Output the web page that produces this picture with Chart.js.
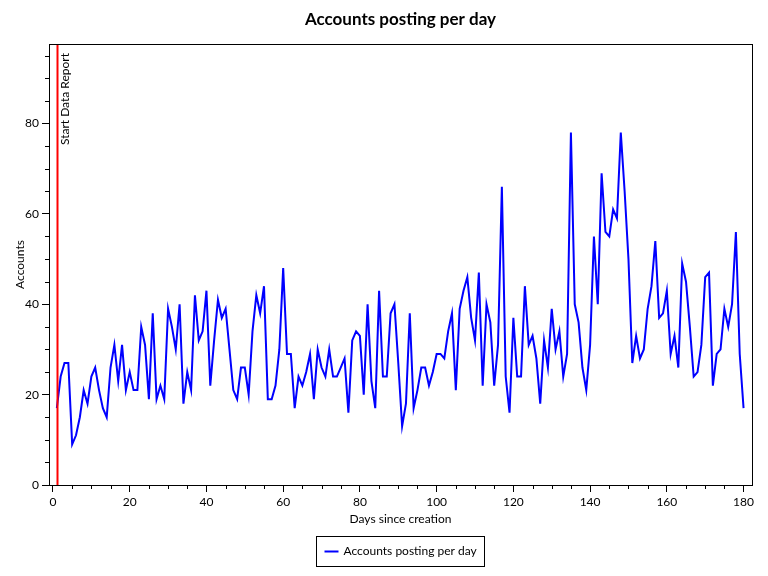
<!DOCTYPE html>
<html>
<head>
<meta charset="utf-8">
<script src="https://cdn.jsdelivr.net/npm/chart.js@4.4.0/dist/chart.umd.min.js"></script>
<style>
body { margin: 0; background: #fff; }
</style>
</head>
<body>
<canvas id="postsChart" width="768" height="576"></canvas>
<script>
// accounts posting per day, day 1..180
const accounts = [
    17, 24, 27, 27, 9, 11, 15, 21, 18, 24,
    26, 21, 17, 15, 26, 31, 23, 31, 21, 25,
    21, 21, 35, 31, 19, 38, 19, 22, 19, 39,
    35, 30, 40, 18, 25, 21, 42, 32, 34, 43,
    22, 32, 41, 37, 39, 30, 21, 19, 26, 26,
    20, 34, 42, 38, 44, 19, 19, 22, 30, 48,
    29, 29, 17, 24, 22, 25, 29, 19, 30, 26,
    24, 30, 24, 24, 26, 28, 16, 32, 34, 33,
    20, 40, 23, 17, 43, 24, 24, 38, 40, 27,
    13, 18, 38, 17, 21, 26, 26, 22, 25, 29,
    29, 28, 34, 38, 21, 39, 43, 46, 37, 32,
    47, 22, 40, 36, 22, 31, 66, 24, 16, 37,
    24, 24, 44, 31, 33, 28, 18, 32, 26, 39,
    30, 34, 24, 29, 78, 40, 36, 26, 21, 31,
    55, 40, 69, 56, 55, 61, 59, 78, 65, 50,
    27, 33, 28, 30, 39, 44, 54, 37, 38, 43,
    29, 33, 26, 49, 45, 35, 24, 25, 31, 46,
    47, 22, 29, 30, 39, 35, 40, 56, 29, 17
]
const days = accounts.map((v, i) => i + 1)

const xTicks = [0, 20, 40, 60, 80, 100, 120, 140, 160, 180]
const yTicks = [0, 20, 40, 60, 80]
const startDay = 1
const startLabel = 'Start Data Report'
const seriesLabel = 'Accounts posting per day'

const FONT = 'Lato'

// minor ticks + plot frame + start marker + boxed legend
const extras = {
    id: 'extras',
    afterDatasetsDraw(chart) {
        const ctx = chart.ctx
        const area = chart.chartArea
        const xs = chart.scales.x

        // start marker
        const sx = Math.round(xs.getPixelForValue(startDay)) + 0.5
        ctx.save()
        ctx.strokeStyle = '#ff0000'
        ctx.lineWidth = 2
        ctx.beginPath()
        ctx.moveTo(sx, area.top)
        ctx.lineTo(sx, area.bottom)
        ctx.stroke()
        ctx.translate(sx + 2, area.top + 9)
        ctx.rotate(-Math.PI / 2)
        ctx.fillStyle = '#000'
        ctx.font = '12px "' + FONT + '"'
        ctx.textAlign = 'right'
        ctx.textBaseline = 'top'
        ctx.fillText(startLabel, 0, 0)
        ctx.restore()
    },
    afterDraw(chart) {
        const ctx = chart.ctx
        const area = chart.chartArea
        const xs = chart.scales.x
        const ys = chart.scales.y
        ctx.save()
        ctx.strokeStyle = '#000'
        ctx.lineWidth = 1
        ctx.strokeRect(Math.round(area.left) + 0.5, Math.round(area.top) + 0.5,
            Math.round(area.right - area.left), Math.round(area.bottom - area.top))

        ctx.beginPath()
        for (let v = 5; v <= 180; v += 5) {
            if (v % 20 === 0) continue
            const px = Math.round(xs.getPixelForValue(v)) + 0.5
            ctx.moveTo(px, area.bottom)
            ctx.lineTo(px, area.bottom + 4)
        }
        for (let v = 5; v <= 95; v += 5) {
            if (v % 20 === 0) continue
            const py = Math.round(ys.getPixelForValue(v)) + 0.5
            ctx.moveTo(area.left, py)
            ctx.lineTo(area.left - 4, py)
        }
        ctx.stroke()

        // legend
        ctx.font = '12px "' + FONT + '"'
        const tw = ctx.measureText(seriesLabel).width
        const bw = 8 + 14 + 5 + tw + 8
        const bh = 30
        const cx = (area.left + area.right) / 2
        const bx = Math.round(cx - bw / 2) + 0.5
        const by = 536.5
        ctx.strokeRect(bx, by, Math.round(bw), bh)
        ctx.strokeStyle = '#0000ff'
        ctx.lineWidth = 2
        ctx.beginPath()
        ctx.moveTo(bx + 8, by + bh / 2)
        ctx.lineTo(bx + 22, by + bh / 2)
        ctx.stroke()
        ctx.fillStyle = '#000'
        ctx.textAlign = 'left'
        ctx.textBaseline = 'middle'
        ctx.fillText(seriesLabel, bx + 27, by + bh / 2)
        ctx.restore()
    }
}

const tickFont = { family: FONT, size: 12 }

const ctx = document.getElementById('postsChart').getContext('2d')
const myChart = new Chart(ctx, {
    type: 'line',
    data: {
        datasets: [{
            label: seriesLabel,
            data: days.map((d, i) => ({ x: d, y: accounts[i] })),
            borderColor: '#0000ff',
            borderWidth: 2,
            pointRadius: 0,
            tension: 0,
            fill: false
        }]
    },
    options: {
        responsive: false,
        animation: false,
        layout: { padding: { left: 0, right: 16, top: 0, bottom: 41 } },
        plugins: {
            legend: { display: false },
            tooltip: { enabled: false },
            title: {
                display: true,
                fullSize: false,
                text: 'Accounts posting per day',
                color: '#000',
                font: { family: FONT, size: 17, weight: 'bold', lineHeight: 1.2 },
                padding: { top: 9, bottom: 14.6 }
            }
        },
        scales: {
            x: {
                type: 'linear',
                min: -1.04,
                max: 182.2,
                afterBuildTicks: s => { s.ticks = xTicks.map(v => ({ value: v })) },
                afterFit: s => { s.height = 50 },
                grid: { display: true, drawOnChartArea: false, drawTicks: true, tickLength: 7, tickColor: '#000' },
                border: { display: true, color: '#000' },
                ticks: { color: '#000', font: tickFont, padding: 3, maxRotation: 0, autoSkip: false },
                title: { display: true, text: 'Days since creation', color: '#000', font: tickFont, padding: { top: 0, bottom: 8.8 } }
            },
            y: {
                min: 0,
                max: 97.6,
                afterBuildTicks: s => { s.ticks = yTicks.map(v => ({ value: v })) },
                afterFit: s => { s.width = 49 },
                grid: { display: true, drawOnChartArea: false, drawTicks: true, tickLength: 7, tickColor: '#000' },
                border: { display: true, color: '#000' },
                ticks: { color: '#000', font: tickFont, padding: 3, autoSkip: false },
                title: { display: true, text: 'Accounts', color: '#000', font: tickFont, padding: { top: 13, bottom: 0 } }
            }
        }
    },
    plugins: [extras]
})
</script>
</body>
</html>
